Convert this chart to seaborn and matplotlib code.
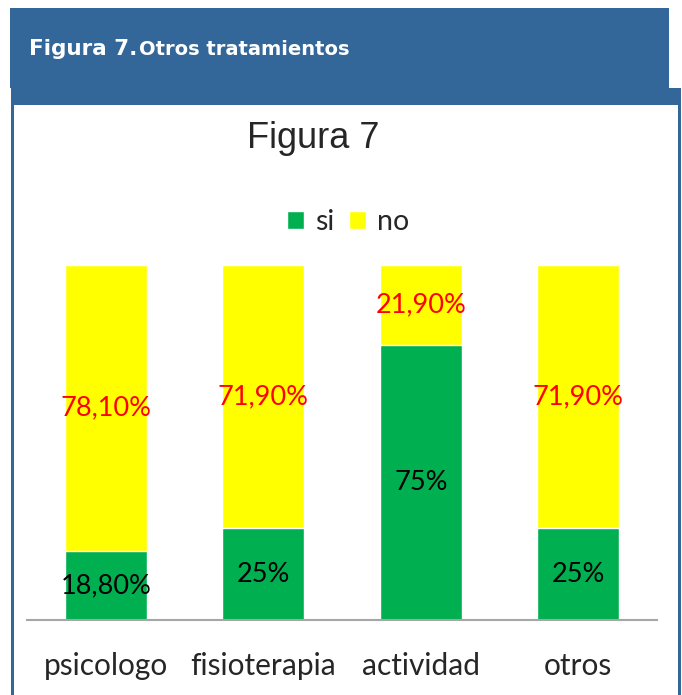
import pandas as pd
import matplotlib.pyplot as plt
import seaborn as sns
from matplotlib.patches import Rectangle

# data
categories = ['psicologo', 'fisioterapia', 'actividad', 'otros']
si_values = [18.8, 25, 75, 25]
no_values = [78.1, 71.9, 21.9, 71.9]
si_labels = ['18,80%', '25%', '75%', '25%']
no_labels = ['78,10%', '71,90%', '21,90%', '71,90%']
series_names = ['si', 'no']

green = '#00B050'
yellow = '#FFFF00'
blue = '#336699'

sns.set_theme(style='white')
plt.rcParams['font.family'] = ['Lato', 'DejaVu Sans']

df = pd.DataFrame({'categoria': categories, 'si': si_values, 'no': no_values})
total = df['si'] + df['no']
df['si_frac'] = df['si'] / total
df['total_frac'] = 1.0

fig = plt.figure(figsize=(6.82, 6.95), dpi=100)
W, H = 682, 695

def frect(x0, y0, x1, y1, **kw):
    # rectangle in pixel coords (origin top-left)
    fig.patches.append(Rectangle((x0 / W, 1 - y1 / H), (x1 - x0) / W, (y1 - y0) / H,
                                 transform=fig.transFigure, zorder=-1, **kw))

# header band and panel border
frect(10, 8, 669, 88, facecolor=blue, edgecolor='none')
frect(11, 88, 681, 105, facecolor=blue, edgecolor='none')
frect(11, 88, 14, H, facecolor=blue, edgecolor='none')
frect(678, 88, 681, H, facecolor=blue, edgecolor='none')

head_font = ['DejaVu Sans']
fig.text(29 / W, 1 - 55 / H, 'Figura 7.', color='white', fontsize=15.5,
         fontweight='bold', va='baseline', ha='left', family=head_font)
fig.text(139 / W, 1 - 55 / H, 'Otros tratamientos', color='white', fontsize=14,
         fontweight='bold', va='baseline', ha='left', family=head_font)

ax = fig.add_axes([27 / W, 75 / H, 630 / W, 355 / H])
sns.barplot(data=df, x='categoria', y='total_frac', color=yellow, width=0.52,
            saturation=1, ax=ax, label='no')
sns.barplot(data=df, x='categoria', y='si_frac', color=green, width=0.52,
            saturation=1, ax=ax, label='si')

ax.set_ylim(0, 1)
ax.set_xlim(-0.5, len(categories) - 0.5)
ax.set_xlabel('')
ax.set_ylabel('')
ax.set_yticks([])
ax.tick_params(axis='x', length=0, pad=23, labelsize=21.5)
for side in ['top', 'right', 'left']:
    ax.spines[side].set_visible(False)
ax.spines['bottom'].set_color('#A6A6A6')
ax.spines['bottom'].set_linewidth(1.5)

for i in range(len(categories)):
    s = df['si_frac'][i]
    ax.text(i, s / 2, si_labels[i], ha='center', va='center', color='black', fontsize=19.5)
    ax.text(i, s + (1 - s) / 2, no_labels[i], ha='center', va='center', color='red',
            fontsize=19.5)

ax.set_title('Figura 7', fontsize=26, family='Liberation Sans', pad=0,
             x=(313 - 27) / 630, y=1 + (265 - 138) / 355, va='center')

handles, labels = ax.get_legend_handles_labels()
order = [labels.index(n) for n in series_names]
ax.legend([handles[k] for k in order], series_names, loc='center',
          bbox_to_anchor=(0.5 + 6 / 630, 1 + 43 / 355), ncol=2, frameon=False,
          fontsize=20.5, handlelength=0.6, handleheight=0.6, handletextpad=0.4,
          columnspacing=0.5)

fig.savefig('out.png', dpi=100)
